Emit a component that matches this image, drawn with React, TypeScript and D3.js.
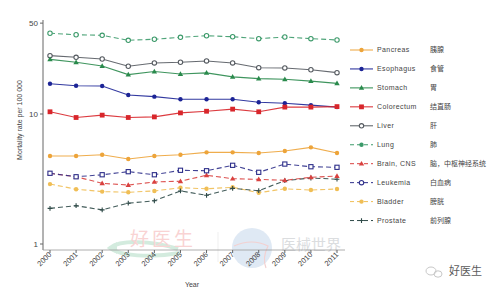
import React from "react";
import * as d3 from "d3";

const years = [2000, 2001, 2002, 2003, 2004, 2005, 2006, 2007, 2008, 2009, 2010, 2011];
const yTicks = [1, 10, 50];

const lung = [41.8, 40.7, 40.3, 36.9, 37.6, 38.9, 40.0, 39.3, 38.0, 39.1, 38.0, 37.1];
const liver = [28.1, 27.3, 26.5, 23.3, 24.7, 25.0, 25.6, 24.7, 22.7, 22.6, 21.9, 20.8];
const stomach = [26.3, 25.0, 23.4, 20.1, 21.2, 20.3, 20.7, 19.3, 18.7, 18.5, 17.9, 17.2];
const esophagus = [17.1, 16.5, 16.4, 14.0, 13.6, 13.0, 13.0, 13.0, 12.3, 12.1, 11.7, 11.3];
const colorectum = [10.4, 9.4, 9.8, 9.4, 9.5, 10.2, 10.5, 10.9, 10.4, 11.3, 11.3, 11.4];
const pancreas = [4.75, 4.75, 4.86, 4.51, 4.75, 4.86, 5.07, 5.07, 5.01, 5.19, 5.54, 5.01];
const leukemia = [3.5, 3.29, 3.41, 3.6, 3.41, 3.69, 3.66, 4.03, 3.56, 4.12, 3.93, 3.89];
const brain = [3.5, 3.29, 2.93, 2.84, 3.0, 3.04, 3.38, 3.18, 3.14, 3.09, 3.26, 3.33];
const bladder = [2.89, 2.64, 2.53, 2.5, 2.56, 2.71, 2.66, 2.73, 2.48, 2.66, 2.6, 2.65];
const prostate = [1.88, 1.97, 1.83, 2.06, 2.15, 2.56, 2.37, 2.68, 2.57, 3.07, 3.22, 3.15];

type Marker = "dot" | "circle" | "tri" | "square" | "plus" | "osquare";
interface S { name: string; zh: string; values: number[]; color: string; dashed: boolean; marker: Marker; legendMarker: Marker; }

const series: S[] = [
  { name: "Pancreas", zh: "胰腺", values: pancreas, color: "#eda43a", dashed: false, marker: "dot", legendMarker: "dot" },
  { name: "Esophagus", zh: "食管", values: esophagus, color: "#1c2496", dashed: false, marker: "dot", legendMarker: "dot" },
  { name: "Stomach", zh: "胃", values: stomach, color: "#2a8a4c", dashed: false, marker: "tri", legendMarker: "tri" },
  { name: "Colorectum", zh: "结直肠", values: colorectum, color: "#d8262b", dashed: false, marker: "square", legendMarker: "square" },
  { name: "Liver", zh: "肝", values: liver, color: "#555a60", dashed: false, marker: "circle", legendMarker: "circle" },
  { name: "Lung", zh: "肺", values: lung, color: "#3c9a6a", dashed: true, marker: "circle", legendMarker: "dot" },
  { name: "Brain, CNS", zh: "脑，中枢神经系统", values: brain, color: "#d9413f", dashed: true, marker: "tri", legendMarker: "tri" },
  { name: "Leukemia", zh: "白血病", values: leukemia, color: "#2e2f8a", dashed: true, marker: "osquare", legendMarker: "circle" },
  { name: "Bladder", zh: "膀胱", values: bladder, color: "#f0be55", dashed: true, marker: "dot", legendMarker: "dot" },
  { name: "Prostate", zh: "前列腺", values: prostate, color: "#2f4a48", dashed: true, marker: "plus", legendMarker: "plus" },
];

const lineOrder = ["Lung", "Liver", "Stomach", "Esophagus", "Colorectum", "Pancreas", "Bladder", "Prostate", "Brain, CNS", "Leukemia"];

function MarkerShape({ m, x, y, color }: { m: Marker; x: number; y: number; color: string }) {
  switch (m) {
    case "dot":
      return <circle cx={x} cy={y} r={2.2} fill={color} />;
    case "circle":
      return <circle cx={x} cy={y} r={2.2} fill="#fff" stroke={color} strokeWidth={1.1} />;
    case "tri":
      return <path d={`M${x},${y - 2.8}L${x + 2.7},${y + 1.9}L${x - 2.7},${y + 1.9}Z`} fill={color} />;
    case "square":
      return <rect x={x - 2.4} y={y - 2.4} width={4.8} height={4.8} fill={color} />;
    case "osquare":
      return <rect x={x - 2.1} y={y - 2.1} width={4.2} height={4.2} fill="#fff" stroke={color} strokeWidth={1.1} />;
    case "plus":
      return <path d={`M${x - 2.4},${y}H${x + 2.4}M${x},${y - 2.4}V${y + 2.4}`} stroke={color} strokeWidth={1.1} />;
  }
}

export default function App() {
  const W = 500, H = 292;
  const x = d3.scalePoint<number>().domain(years).range([50, 337]);
  const y = d3.scaleLog().domain([1, 10]).range([244, 114]);
  const line = d3.line<number>().x((_, i) => x(years[i])!).y((v) => y(v));
  const axisX = 43, axisY = 250;
  const legendX = 350, legendY0 = 50, legendStep = 18.95;
  const ordered = lineOrder.map((n) => series.find((s) => s.name === n)!);
  const txt = "#444";

  return (
    <svg width={W} height={H} style={{ position: "absolute", left: 0, top: 0, background: "#fff" }} fontFamily="Liberation Sans, Arial, sans-serif">
      <rect width={W} height={H} fill="#fff" />
      {/* watermarks */}
      <g opacity={0.45}>
        <path d="M178,249 C150,240 120,240 110,248 C120,256 150,258 180,253" fill="none" stroke="#9fd3b8" strokeWidth={4} />
        <path d="M108,248 L117,242 L117,254 Z" fill="#9fd3b8" />
        <text x={130} y={246} fontSize={19} fill="#f2a0a0" fontFamily="Noto Sans CJK SC" letterSpacing={3}>好医生</text>
        <line x1={218} y1={232} x2={218} y2={262} stroke="#ddd" />
        <circle cx={252} cy={248} r={20} fill="#b9cfe8" />
        <path d="M234,246 Q252,238 268,246 Q262,258 266,268" fill="none" stroke="#e49a9a" strokeWidth={1.2} />
        <text x={281} y={250} fontSize={15} fill="#b0b4ba" fontFamily="Noto Sans CJK SC">医械世界</text>
      </g>

      {/* axes */}
      <line x1={axisX} y1={20} x2={axisX} y2={axisY} stroke="#666" strokeWidth={1} />
      <line x1={axisX} y1={axisY} x2={345} y2={axisY} stroke="#999" strokeWidth={0.8} />
      {yTicks.map((t) => (
        <g key={t}>
          <line x1={axisX - 3} x2={axisX} y1={y(t)} y2={y(t)} stroke="#666" />
          <text x={axisX - 5} y={y(t)} dy="0.35em" textAnchor="end" fontSize={8} fill={txt}>{t}</text>
        </g>
      ))}
      {years.map((yr) => (
        <g key={yr}>
          <line x1={x(yr)} x2={x(yr)} y1={axisY} y2={axisY + 3} stroke="#666" />
          <text transform={`translate(${x(yr)! + 2},${axisY + 5}) rotate(-45)`} textAnchor="end" fontSize={7.5} fill={txt}>{yr}</text>
        </g>
      ))}
      <text x={192} y={287} textAnchor="middle" fontSize={7} fill={txt}>Year</text>
      <text transform={`translate(22,120) rotate(-90)`} textAnchor="middle" fontSize={7} fill={txt}>Mortality rate per 100 000</text>

      {/* lines */}
      {ordered.map((s) => (
        <g key={s.name}>
          <path d={line(s.values)!} fill="none" stroke={s.color} strokeWidth={1.1} strokeDasharray={s.dashed ? "5,3" : undefined} opacity={0.9} />
          {s.values.map((v, i) => (
            <MarkerShape key={i} m={s.marker} x={x(years[i])!} y={y(v)} color={s.color} />
          ))}
        </g>
      ))}

      {/* legend */}
      {series.map((s, i) => {
        const ly = legendY0 + i * legendStep;
        return (
          <g key={s.name}>
            <line x1={legendX} x2={legendX + 23} y1={ly} y2={ly} stroke={s.color} strokeWidth={1} strokeDasharray={s.dashed ? "4,3" : undefined} />
            <MarkerShape m={s.legendMarker} x={legendX + 11.5} y={ly} color={s.color} />
            <text x={legendX + 27} y={ly} dy="0.35em" fontSize={7} fill={txt} letterSpacing={0.4}>{s.name}</text>
            <text x={430} y={ly} dy="0.35em" fontSize={7} fill={txt} fontFamily="Noto Sans CJK SC">{s.zh}</text>
          </g>
        );
      })}

      {/* bottom right watermark */}
      <g opacity={0.8}>
        <ellipse cx={431} cy={271} rx={5} ry={4} fill="none" stroke="#bbb" strokeWidth={1} />
        <ellipse cx={438} cy={274} rx={4} ry={3.2} fill="none" stroke="#bbb" strokeWidth={1} />
        <text x={449} y={275} fontSize={11} fill="#333" fontFamily="Noto Sans CJK SC">好医生</text>
      </g>
    </svg>
  );
}
